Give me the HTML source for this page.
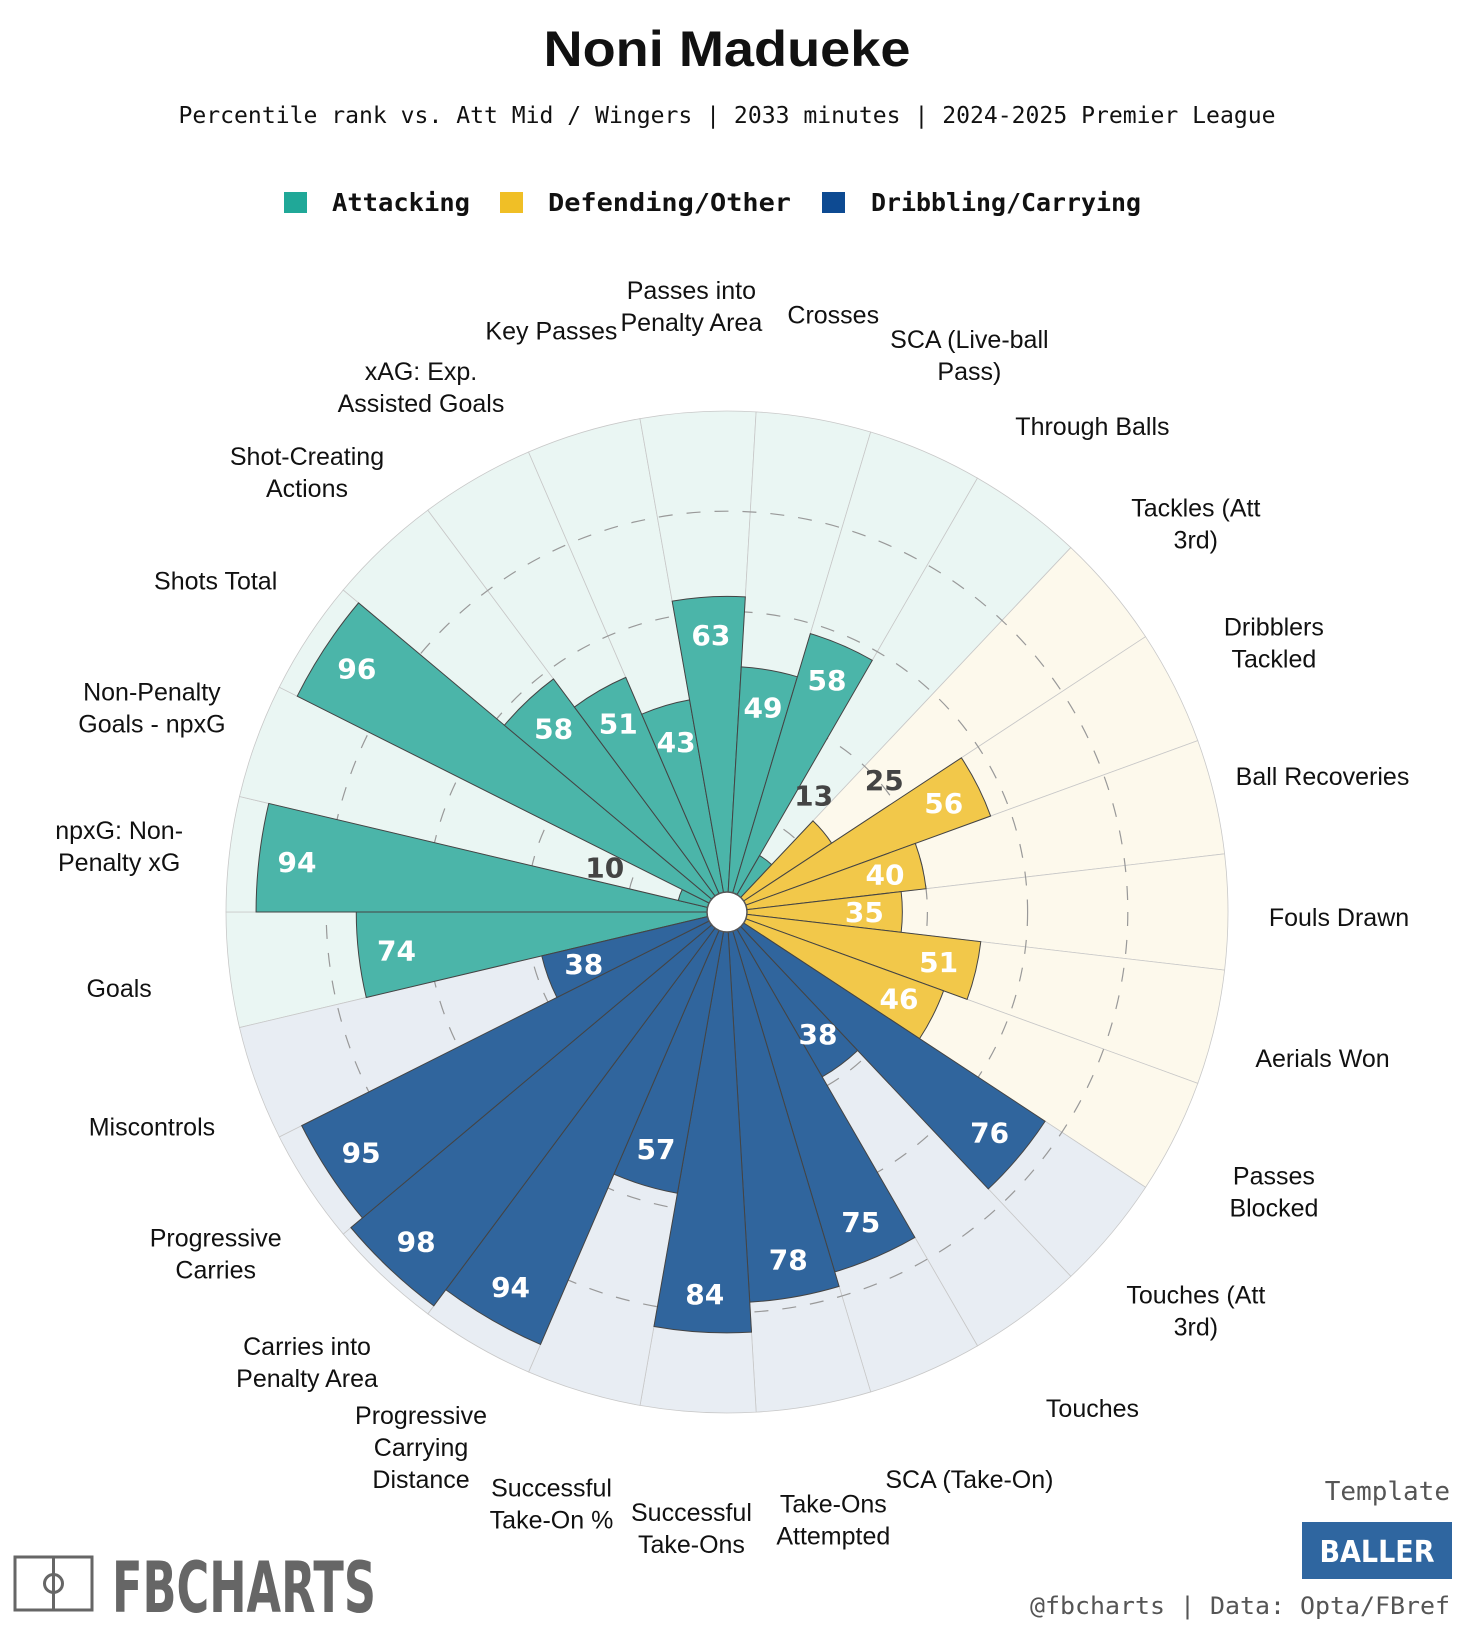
<!DOCTYPE html>
<html><head><meta charset="utf-8"><style>
html,body{margin:0;padding:0;background:#fff;}
svg{display:block;}
</style></head><body>
<svg id="chart" width="1460" height="1625" viewBox="0 0 1460 1625" xmlns="http://www.w3.org/2000/svg" font-family="Liberation Sans, sans-serif">
<rect width="1460" height="1625" fill="#fff"/>
<text x="727" y="66" text-anchor="middle" font-size="50" font-weight="bold" fill="#111" font-family="Liberation Sans, sans-serif" textLength="367" lengthAdjust="spacingAndGlyphs">Noni Madueke</text>
<text x="727" y="123" text-anchor="middle" font-size="23" fill="#111" font-family="DejaVu Sans Mono, monospace" textLength="1097" lengthAdjust="spacingAndGlyphs">Percentile rank vs. Att Mid / Wingers | 2033 minutes | 2024-2025 Premier League</text>
<g font-family="DejaVu Sans Mono, monospace" font-weight="bold" font-size="25" fill="#111">
<rect x="284" y="192" width="23" height="21" fill="#20a898"/>
<text x="332" y="211" textLength="138" lengthAdjust="spacingAndGlyphs">Attacking</text>
<rect x="500" y="192" width="23" height="21" fill="#f0bf26"/>
<text x="548" y="211" textLength="243" lengthAdjust="spacingAndGlyphs">Defending/Other</text>
<rect x="822" y="192" width="23" height="21" fill="#0d4a92"/>
<text x="871" y="211" textLength="270" lengthAdjust="spacingAndGlyphs">Dribbling/Carrying</text>
</g>
<g id="radar"></g>
<g fill="none" stroke="#666" stroke-width="3">
<rect x="15" y="1557" width="77" height="53"/>
<line x1="53.5" y1="1557" x2="53.5" y2="1610"/>
<circle cx="53.5" cy="1583.5" r="9"/>
</g>
<text x="112" y="1612" font-size="70" font-weight="bold" fill="#666" font-family="DejaVu Sans, sans-serif" textLength="264" lengthAdjust="spacingAndGlyphs">FBCHARTS</text>
<text x="1450" y="1500" text-anchor="end" font-size="26" fill="#555" font-family="DejaVu Sans Mono, monospace">Template</text>
<rect x="1302" y="1522" width="150" height="57" fill="#2f66a0"/>
<text x="1377" y="1562" text-anchor="middle" font-size="30" font-weight="bold" fill="#fff" font-family="DejaVu Sans, sans-serif" style="font-stretch:condensed">BALLER</text>
<text x="1450" y="1614" text-anchor="end" font-size="24" fill="#555" font-family="DejaVu Sans Mono, monospace" textLength="420" lengthAdjust="spacingAndGlyphs">@fbcharts | Data: Opta/FBref</text>
</svg>
<script>
const categories = ["Goals","npxG: Non-|Penalty xG","Non-Penalty|Goals - npxG","Shots Total","Shot-Creating|Actions","xAG: Exp.|Assisted Goals","Key Passes","Passes into|Penalty Area","Crosses","SCA (Live-ball|Pass)","Through Balls","Tackles (Att|3rd)","Dribblers|Tackled","Ball Recoveries","Fouls Drawn","Aerials Won","Passes|Blocked","Touches (Att|3rd)","Touches","SCA (Take-On)","Take-Ons|Attempted","Successful|Take-Ons","Successful|Take-On %","Progressive|Carrying|Distance","Carries into|Penalty Area","Progressive|Carries","Miscontrols"];
const values = [74,94,10,96,58,51,43,63,49,58,13,25,56,40,35,51,46,76,38,75,78,84,57,94,98,95,38];
const groups = ["A","A","A","A","A","A","A","A","A","A","A","D","D","D","D","D","D","C","C","C","C","C","C","C","C","C","C"];
const ringTicks = [20,40,60,80];

const NS="http://www.w3.org/2000/svg";
const g=document.getElementById('radar');
const cx=727, cy=912, R=501, n=categories.length, step=360/n, start=173.33;
const bg={A:"#eaf6f3",D:"#fdf9ec",C:"#e8edf3"};
const fg={A:"#4bb5a9",D:"#f2c84a",C:"#30659d"};
function rad(a){return a*Math.PI/180;}
function rScale(v){return v/100*R;}
function pt(r,a){return [cx+r*Math.cos(rad(a)),cy+r*Math.sin(rad(a))];}
function wedge(r,a0,a1){const p0=pt(r,a0),p1=pt(r,a1);return `M${cx},${cy}L${p0[0]},${p0[1]}A${r},${r} 0 0 1 ${p1[0]},${p1[1]}Z`;}
function mk(tag,attrs){const e=document.createElementNS(NS,tag);for(const k in attrs)e.setAttribute(k,attrs[k]);return e;}
for(let i=0;i<n;i++){
 const a=start+i*step;
 const e=mk('path',{d:wedge(R,a-step/2,a+step/2),fill:bg[groups[i]],stroke:"#c8c8c8","stroke-width":0.8});
 
 
 g.appendChild(e);
}
ringTicks.forEach(t=>{
 const e=mk('circle',{cx:cx,cy:cy,r:rScale(t),fill:"none",stroke:"#999","stroke-width":1.2,"stroke-dasharray":"14 14"});
 
 
 g.appendChild(e);
});
for(let i=0;i<n;i++){
 const a=start+i*step;
 const e=mk('path',{d:wedge(rScale(values[i]),a-step/2,a+step/2),fill:fg[groups[i]],stroke:"#444","stroke-width":1});
 
 
 g.appendChild(e);
}
for(let i=0;i<n;i++){
 const a=start+i*step, v=values[i];
 const small=v<30;
 const r=small?rScale(v)+80:rScale(v)-38;
 const p=pt(r,a);
 const t=mk('text',{x:p[0],y:p[1]+10,"text-anchor":"middle","font-size":28,"font-weight":"bold",fill:small?"#444":"#fff","font-family":"DejaVu Sans, sans-serif"});
 
 
 t.textContent=v;
 g.appendChild(t);
}
const hole=mk('circle',{cx:cx,cy:cy,r:20,fill:"#fff",stroke:"#555","stroke-width":1.5});


g.appendChild(hole);
for(let i=0;i<n;i++){
 const a=start+i*step;
 const p=pt(612,a);
 const lines=categories[i].split('|');
 const lh=32;
 const t=mk('text',{"text-anchor":"middle","font-size":25,fill:"#111","font-family":"Liberation Sans, sans-serif"});
 
 
 lines.forEach((l,j)=>{
  const s=mk('tspan',{x:p[0],y:p[1]+14+(j-(lines.length-1)/2)*lh});
  s.textContent=l;t.appendChild(s);
 });
 g.appendChild(t);
}
</script>
</body></html>
